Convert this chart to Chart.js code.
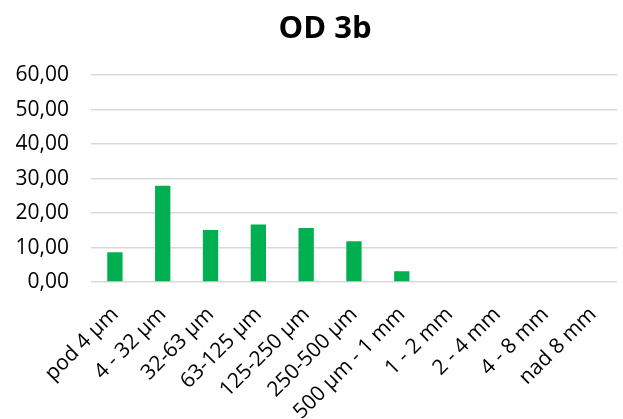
<!DOCTYPE html>
<html>
<head>
<meta charset="utf-8">
<script src="https://cdn.jsdelivr.net/npm/chart.js@4"></script>
<style>
  html, body { margin: 0; padding: 0; background: #fff; }
  #wrap { width: 623px; height: 419px; }
</style>
</head>
<body>
<div id="wrap"><canvas id="odChart"></canvas></div>
<script>
// chart data
const categories = ['pod 4 µm', '4 - 32 µm', '32-63 µm', '63-125 µm', '125-250 µm', '250-500 µm',
    '500 µm - 1 mm', '1 - 2 mm', '2 - 4 mm', '4 - 8 mm', 'nad 8 mm'];
const values = [8.6, 27.9, 15.1, 16.7, 15.7, 11.8, 3.1, 0, 0, 0, 0];
const yTicks = [0, 10, 20, 30, 40, 50, 60];

const fontFamily = "'Open Sans', 'Liberation Sans', sans-serif";

const ctx = document.getElementById('odChart').getContext('2d');
new Chart(ctx, {
    type: 'bar',
    data: {
        labels: categories,
        datasets: [{
            label: 'OD 3b',
            data: values,
            backgroundColor: '#00B050',
            borderWidth: 0,
            barPercentage: 0.64,
            categoryPercentage: 0.5
        }]
    },
    options: {
        responsive: true,
        maintainAspectRatio: false,
        animation: false,
        layout: { padding: { left: 0, right: 4, top: 0, bottom: 0 } },
        plugins: {
            legend: { display: false },
            tooltip: { enabled: false },
            title: {
                display: true,
                // leading em space nudges the centred title a bit to the right
                text: '\u2003OD 3b',
                color: '#000',
                font: { family: fontFamily, size: 31, weight: 'bold' },
                padding: { top: 11, bottom: 27 }
            }
        },
        scales: {
            x: {
                grid: { display: false },
                border: { display: false },
                afterFit: axis => { axis.height = 137; },
                ticks: {
                    color: '#000',
                    font: { family: fontFamily, size: 21 },
                    minRotation: 45,
                    maxRotation: 45,
                    autoSkip: false,
                    padding: 12
                }
            },
            y: {
                min: 0,
                max: 60,
                afterBuildTicks: axis => { axis.ticks = yTicks.map(v => ({ value: v })); },
                afterFit: axis => { axis.width = 91; },
                grid: { color: '#d9d9d9', lineWidth: 1.5, drawTicks: false },
                border: { display: false },
                ticks: {
                    color: '#000',
                    padding: 22,
                    font: { family: fontFamily, size: 21 },
                    callback: v => v.toFixed(2).replace('.', ',')
                }
            }
        }
    }
});
</script>
</body>
</html>
